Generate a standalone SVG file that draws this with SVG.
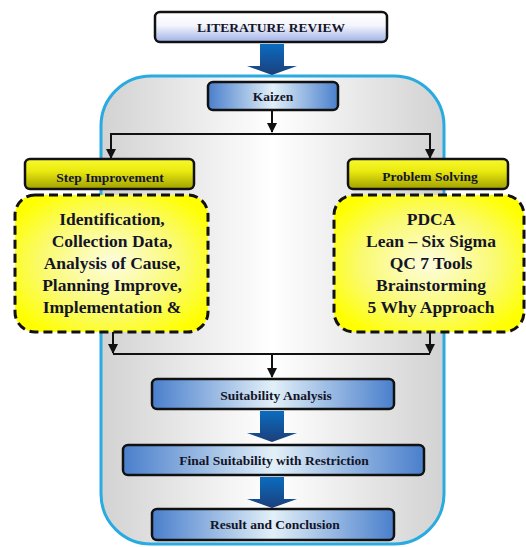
<svg xmlns="http://www.w3.org/2000/svg" width="526" height="547" viewBox="0 0 526 547">
<style>
.box{stroke:#111;stroke-width:2.5}
.lbl{font-family:'Liberation Serif','Times New Roman',Times,serif;font-weight:700;font-size:13.5px;fill:#141428;text-anchor:middle}
.big{font-family:'Liberation Serif','Times New Roman',Times,serif;font-weight:700;font-size:17.5px;fill:#141428;text-anchor:middle}
.dash{stroke:#111;stroke-width:3;stroke-dasharray:9,5;fill:url(#yrad)}
.con{fill:none;stroke:#111;stroke-width:2}
</style>
<defs>
<linearGradient id="bg" x1="0" y1="0" x2="1" y2="0">
<stop offset="0" stop-color="#d2d2d2"/><stop offset="0.5" stop-color="#ffffff"/><stop offset="1" stop-color="#d2d2d2"/>
</linearGradient>
<linearGradient id="blue" x1="0" y1="0" x2="1" y2="0">
<stop offset="0" stop-color="#4a7fcc"/><stop offset="0.5" stop-color="#e2f0f8"/><stop offset="1" stop-color="#4a7fcc"/>
</linearGradient>
<linearGradient id="lit" x1="0" y1="0" x2="0" y2="1">
<stop offset="0" stop-color="#ffffff"/><stop offset="0.45" stop-color="#f4f6fc"/><stop offset="1" stop-color="#9fb0e6"/>
</linearGradient>
<linearGradient id="yel" x1="0" y1="0" x2="0" y2="1">
<stop offset="0" stop-color="#f8f830"/><stop offset="0.4" stop-color="#eaea10"/><stop offset="1" stop-color="#a0a000"/>
</linearGradient>
<radialGradient id="yrad" cx="0.5" cy="0.5" r="0.6">
<stop offset="0" stop-color="#fdfde0"/><stop offset="0.6" stop-color="#fafa70"/><stop offset="1" stop-color="#ffff00"/>
</radialGradient>
<linearGradient id="arr" x1="0" y1="0" x2="0" y2="1">
<stop offset="0" stop-color="#0a6cc0"/><stop offset="1" stop-color="#1c3f7a"/>
</linearGradient>
<marker id="ah" markerWidth="10" markerHeight="10" refX="9" refY="5" orient="auto" markerUnits="userSpaceOnUse">
<path d="M0,0 L10,5 L0,10 Z" fill="#111"/>
</marker>
<path id="blk" d="M-12,0 H12 V22 H25 L0,31 L-25,22 H-12 Z" fill="url(#arr)"/>
</defs>

<g id="container">
<rect x="101" y="76" width="343" height="468" rx="50" fill="url(#bg)" stroke="#29abe2" stroke-width="3"/>
</g>

<g id="connectors">
<use href="#blk" x="272" y="44"/>
<path class="con" d="M272,110 V132" marker-end="url(#ah)"/>
<path class="con" d="M111,158 V134 H430 V158"/>
<path class="con" d="M111,145 V158" marker-end="url(#ah)"/>
<path class="con" d="M430,145 V158" marker-end="url(#ah)"/>
<path class="con" d="M113,332 V353 M430,332 V353"/>
<path class="con" d="M113,340 V353" marker-end="url(#ah)"/>
<path class="con" d="M430,340 V353" marker-end="url(#ah)"/>
<path class="con" d="M113,354 H430 M272,354 V377" marker-end="url(#ah)"/>
<use href="#blk" x="272" y="411"/>
<use href="#blk" x="272" y="477"/>
</g>

<g id="literature-review">
<rect class="box" x="155" y="12" width="232" height="30" rx="5" fill="url(#lit)"/>
<text class="lbl" x="271" y="32">LITERATURE REVIEW</text>
</g>

<g id="kaizen">
<rect class="box" x="208" y="82" width="130" height="28" rx="5" fill="url(#blue)"/>
<text class="lbl" x="273" y="101">Kaizen</text>
</g>

<g id="step-improvement">
<rect class="box" x="25" y="159" width="169" height="30" rx="5" fill="url(#yel)"/>
<text class="lbl" x="110" y="182">Step Improvement</text>
</g>

<g id="problem-solving">
<rect class="box" x="348" y="159" width="160" height="30" rx="5" fill="url(#yel)"/>
<text class="lbl" x="430" y="181">Problem Solving</text>
</g>

<g id="steps">
<rect class="dash" x="15" y="195" width="193" height="137" rx="20"/>
<text class="big" x="112" y="225">Identification,</text>
<text class="big" x="112" y="247">Collection Data,</text>
<text class="big" x="112" y="269">Analysis of Cause,</text>
<text class="big" x="112" y="291">Planning Improve,</text>
<text class="big" x="112" y="313">Implementation &amp;</text>
</g>

<g id="tools">
<rect class="dash" x="334" y="195" width="190" height="137" rx="20"/>
<text class="big" x="431" y="225">PDCA</text>
<text class="big" x="431" y="247">Lean – Six Sigma</text>
<text class="big" x="431" y="269">QC 7 Tools</text>
<text class="big" x="431" y="291">Brainstorming</text>
<text class="big" x="431" y="313">5 Why Approach</text>
</g>

<g id="suitability-analysis">
<rect class="box" x="152" y="379" width="242" height="30" rx="5" fill="url(#blue)"/>
<text class="lbl" x="276" y="400">Suitability Analysis</text>
</g>

<g id="final-suitability">
<rect class="box" x="123" y="445" width="301" height="30" rx="5" fill="url(#blue)"/>
<text class="lbl" x="274" y="465">Final Suitability with Restriction</text>
</g>

<g id="result">
<rect class="box" x="152" y="509" width="242" height="31" rx="5" fill="url(#blue)"/>
<text class="lbl" x="275" y="529">Result and Conclusion</text>
</g>
</svg>
